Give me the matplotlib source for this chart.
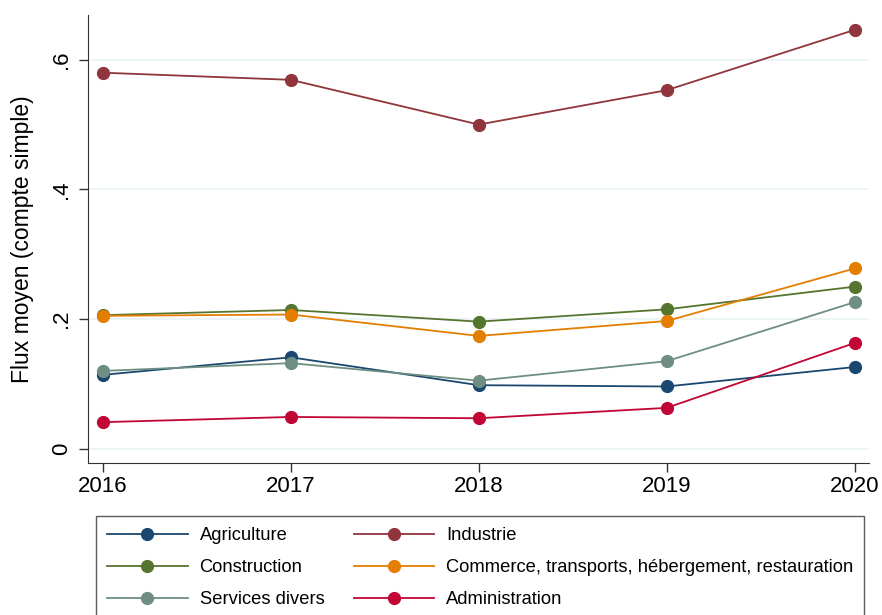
#!/usr/bin/env python3

import matplotlib.pyplot as plt
import numpy as np

plt.rcParams['font.family'] = ['Liberation Sans', 'DejaVu Sans']

years = [2016, 2017, 2018, 2019, 2020]

agriculture = [0.114, 0.141, 0.098, 0.096, 0.126]
industrie = [0.580, 0.569, 0.500, 0.553, 0.646]
construction = [0.206, 0.214, 0.196, 0.215, 0.250]
commerce = [0.205, 0.207, 0.174, 0.197, 0.278]
services = [0.120, 0.132, 0.105, 0.135, 0.226]
administration = [0.041, 0.049, 0.047, 0.063, 0.163]

labels = ["Agriculture", "Industrie", "Construction",
          "Commerce, transports, hébergement, restauration",
          "Services divers", "Administration"]
series = [agriculture, industrie, construction, commerce, services, administration]
colors = ["#1a476f", "#90353b", "#55752f", "#e37e00", "#6e8e84", "#c10534"]

y_ticks = [0, 0.2, 0.4, 0.6]
y_tick_labels = ["0", ".2", ".4", ".6"]

fig = plt.figure(figsize=(8.82, 6.15), dpi=100)
ax = fig.add_axes([0.0998, 0.2476, 0.885, 0.728])

for vals, lab, col in zip(series, labels, colors):
    ax.plot(years, vals, color=col, lw=1.3, marker="o", ms=8.5, label=lab)

ax.set_xlim(2015.92, 2020.075)
ax.set_ylim(-0.0216, 0.669)
ax.set_xticks(years)
ax.set_yticks(y_ticks)
ax.set_yticklabels(y_tick_labels, rotation=90, va="center")
ax.tick_params(axis="both", labelsize=16, length=6.5, width=1, color="#333333")
ax.tick_params(axis="x", pad=3)
ax.tick_params(axis="y", pad=5)
ax.grid(axis="y", color="#eaf2f3", lw=1.2)
ax.set_axisbelow(True)
for side in ["top", "right"]:
    ax.spines[side].set_visible(False)
for side in ["left", "bottom"]:
    ax.spines[side].set_color("#333333")
ax.set_ylabel("Flux moyen (compte simple)", fontsize=16.5, labelpad=12)

# order handles row-wise: Agriculture | Industrie, Construction | Commerce, ...
handles, labs = ax.get_legend_handles_labels()
order = [0, 2, 4, 1, 3, 5]
leg = fig.legend([handles[i] for i in order], [labs[i] for i in order],
                 loc="upper left", bbox_to_anchor=(96 / 882, 1 - 516 / 615),
                 ncol=2, fontsize=13.2, frameon=True, fancybox=False,
                 handlelength=4.4, handletextpad=0.65, labelspacing=0.82,
                 borderpad=0.6, borderaxespad=0.0, columnspacing=1.6)
leg.get_frame().set_edgecolor("#333333")
leg.get_frame().set_linewidth(1.0)

fig.savefig("out.png", dpi=100)
